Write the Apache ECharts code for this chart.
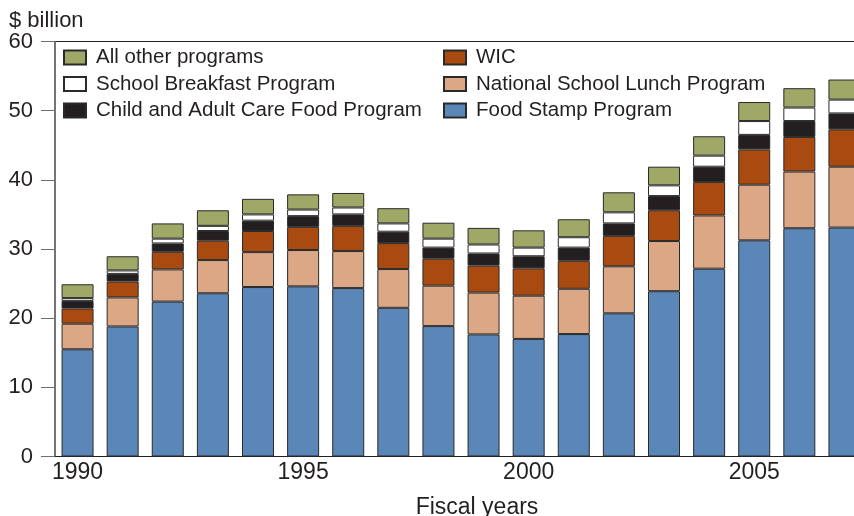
<!DOCTYPE html>
<html>
<head>
<meta charset="utf-8">
<script src="https://cdn.jsdelivr.net/npm/echarts@6/dist/echarts.min.js"></script>
<style>
  html, body { margin: 0; padding: 0; background: #fff; }
  #main { width: 854px; height: 516px; }
</style>
</head>
<body>
<div id="main"></div>
<script>
// fiscal years on the x axis
var years = ['1990', '1991', '1992', '1993', '1994', '1995', '1996', '1997', '1998',
  '1999', '2000', '2001', '2002', '2003', '2004', '2005', '2006', '2007'];
var yTicks = [0, 10, 20, 30, 40, 50, 60];

// $ billion
var foodStamp   = [15.5, 18.8, 22.4, 23.6, 24.5, 24.6, 24.35, 21.5, 18.85, 17.65, 17.0, 17.7, 20.7, 23.9, 27.15, 31.25, 33.0, 33.1];
var schoolLunch = [3.7, 4.2, 4.65, 4.8, 5.05, 5.25, 5.35, 5.6, 5.85, 6.05, 6.25, 6.55, 6.8, 7.25, 7.7, 8.05, 8.2, 8.8];
var wic         = [2.2, 2.3, 2.55, 2.8, 3.05, 3.35, 3.65, 3.75, 3.9, 3.9, 3.95, 4.05, 4.4, 4.45, 4.85, 5.1, 5.0, 5.4];
var childCare   = [1.1, 1.1, 1.2, 1.4, 1.5, 1.55, 1.65, 1.65, 1.6, 1.75, 1.75, 1.9, 1.8, 2.05, 2.2, 2.1, 2.3, 2.3];
var breakfast   = [0.4, 0.5, 0.7, 0.75, 0.9, 0.95, 1.0, 1.2, 1.3, 1.3, 1.25, 1.5, 1.6, 1.55, 1.6, 2.0, 1.95, 2.0];
var allOther    = [2.0, 2.05, 2.2, 2.25, 2.25, 2.2, 2.1, 2.2, 2.3, 2.4, 2.5, 2.6, 2.9, 2.7, 2.8, 2.75, 2.8, 2.9];

var font = '"Liberation Sans", Arial, sans-serif';
var ink = '#231f20';
var axisGrey = '#6d6e71';

function barSeries(name, data, color) {
  return {
    name: name,
    type: 'bar',
    stack: 'total',
    barWidth: 32,
    data: data,
    itemStyle: { color: color, borderColor: '#2a2a2a', borderWidth: 1 }
  };
}

// legend text a bit further from the swatch, like the original
var legendText = { fontFamily: font, fontSize: 20.5, color: ink, padding: [0, 0, 0, 5] };

var myChart = echarts.init(document.getElementById('main'));
var option = {
  animation: false,
  textStyle: { fontFamily: font, color: ink },
  title: [
    { text: '$ billion', left: 4, top: 5, textStyle: { fontFamily: font, fontSize: 22, fontWeight: 'normal', color: ink } },
    { text: 'Fiscal years', left: 472, top: 491, textAlign: 'center', textStyle: { fontFamily: font, fontSize: 23, fontWeight: 'normal', color: ink } }
  ],
  grid: {
    left: 55, right: -13, top: 41.5, bottom: 59.5,
    outerBoundsMode: 'none',
    show: true, borderColor: ink, borderWidth: 1, backgroundColor: 'transparent'
  },
  legend: [
    {
      orient: 'vertical', left: 63, top: 47,
      itemWidth: 22, itemHeight: 14, itemGap: 5.5,
      icon: 'rect', padding: 0,
      textStyle: legendText,
      data: ['All other programs', 'School Breakfast Program', 'Child and Adult Care Food Program']
    },
    {
      orient: 'vertical', left: 443, top: 47,
      itemWidth: 22, itemHeight: 14, itemGap: 5.5,
      icon: 'rect', padding: 0,
      textStyle: legendText,
      data: ['WIC', 'National School Lunch Program', 'Food Stamp Program']
    }
  ],
  xAxis: {
    type: 'category',
    data: years,
    axisLine: { lineStyle: { color: ink, width: 1 } },
    axisTick: { show: false },
    axisLabel: {
      interval: function (i, v) { return Number(v) % 5 === 0; },
      fontFamily: font, fontSize: 23, color: ink, margin: 5
    }
  },
  yAxis: {
    type: 'value',
    min: yTicks[0], max: yTicks[yTicks.length - 1], interval: 10,
    splitLine: { show: false },
    axisLine: { show: true, lineStyle: { color: axisGrey, width: 1.5 } },
    axisTick: { show: true, length: 14, lineStyle: { color: axisGrey } },
    axisLabel: { fontFamily: font, fontSize: 22, color: ink, margin: 22 }
  },
  series: [
    barSeries('Food Stamp Program', foodStamp, '#5b86b8'),
    barSeries('National School Lunch Program', schoolLunch, '#dba785'),
    barSeries('WIC', wic, '#a94b10'),
    barSeries('Child and Adult Care Food Program', childCare, '#231f20'),
    barSeries('School Breakfast Program', breakfast, '#ffffff'),
    barSeries('All other programs', allOther, '#9fa866')
  ]
};
myChart.setOption(option);
</script>
</body>
</html>
